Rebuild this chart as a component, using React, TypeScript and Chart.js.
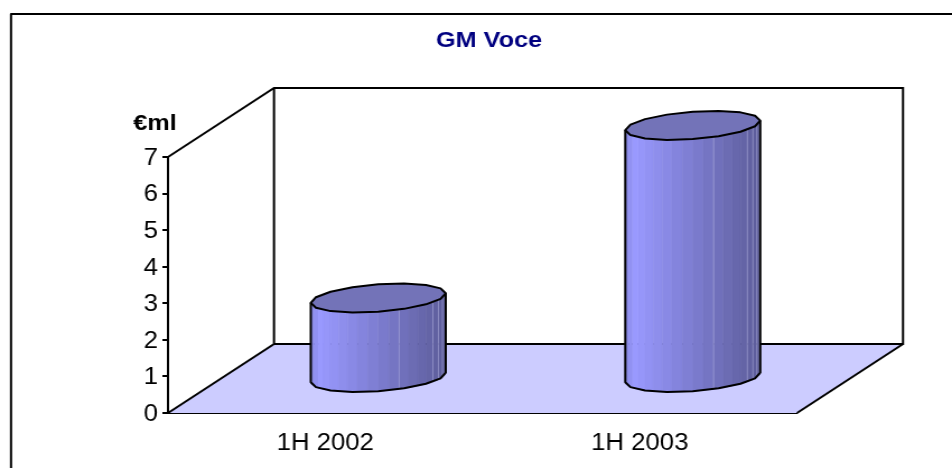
import React, { useEffect, useRef } from "react";
import { Chart, registerables } from "chart.js";

Chart.register(...registerables);

const categories = ["1H 2002", "1H 2003"];
const seriesValues = [2.2, 6.92];
const titleText = "GM Voce";
const unitText = "€ml";

const STRETCH = 1.12; // the whole picture is stretched horizontally
const CANVAS_W = 850;
const CANVAS_H = 468;
const DEPTH_X = 106 / STRETCH;
const DEPTH_Y = 69;
const ELLIPSE_RATIO = 14.5 / 67.5;
const SIDES = 40;
const OUTLINE_SIDES = 16;
const SEAMS = [1, 2, 3, 4, 8];
const TEXT_SIZE = 23;
const TITLE_SIZE = 22.5;
const FONT = '"Liberation Sans", Arial, sans-serif';

const shade = (p: number) => {
  const s = p < 0.07 ? 0.88 + (0.12 * p) / 0.07 : 1 - (0.4 * (p - 0.07)) / 0.93;
  return `rgb(${Math.round(153 * s)},${Math.round(153 * s)},${Math.round(255 * s)})`;
};

function drawCylinder(ctx: CanvasRenderingContext2D, cx: number, top: number, base: number, width: number) {
  const R = width / 2;
  const C = R * ELLIPSE_RATIO * STRETCH;
  const B = (C * DEPTH_X) / DEPTH_Y;
  const A = Math.sqrt(R * R - B * B);
  const theta = Math.atan2(B, A);
  const pt = (t: number, y: number) => ({ x: cx + A * Math.cos(t) + B * Math.sin(t), y: y - C * Math.sin(t) });
  const step = (2 * Math.PI) / SIDES;
  const half = SIDES / 2;
  const oStep = (2 * Math.PI) / OUTLINE_SIDES;
  // strips of the front half, left to right
  for (let k = 0; k < half; k++) {
    const t0 = Math.PI + theta + k * step;
    const t1 = t0 + step;
    const a = pt(t0, top), b = pt(t1, top), c = pt(t1, base), d = pt(t0, base);
    const p = ((a.x + b.x) / 2 - (cx - R)) / (2 * R);
    ctx.fillStyle = shade(p);
    ctx.strokeStyle = shade(p);
    ctx.lineWidth = 0.6;
    ctx.beginPath();
    ctx.moveTo(a.x, a.y);
    ctx.lineTo(b.x, b.y);
    ctx.lineTo(c.x, c.y);
    ctx.lineTo(d.x, d.y);
    ctx.closePath();
    ctx.fill();
    ctx.stroke();
  }
  // light seams toward the dark side
  ctx.strokeStyle = "rgba(190,190,235,0.55)";
  ctx.lineWidth = 0.8;
  SEAMS.forEach((n) => {
    const t = theta - n * step;
    const a = pt(t, top), d = pt(t, base);
    ctx.beginPath();
    ctx.moveTo(a.x, a.y);
    ctx.lineTo(d.x, d.y);
    ctx.stroke();
  });
  // top cap
  ctx.beginPath();
  for (let k = 0; k < OUTLINE_SIDES; k++) {
    const q = pt(theta + k * oStep, top);
    if (k === 0) ctx.moveTo(q.x, q.y);
    else ctx.lineTo(q.x, q.y);
  }
  ctx.closePath();
  ctx.fillStyle = "#7373b8";
  ctx.fill();
  ctx.strokeStyle = "#000";
  ctx.lineWidth = 2;
  ctx.lineJoin = "round";
  ctx.stroke();
  // silhouette
  ctx.beginPath();
  const start = pt(Math.PI + theta, top);
  ctx.moveTo(start.x, start.y);
  for (let k = 0; k <= OUTLINE_SIDES / 2; k++) {
    const q = pt(Math.PI + theta + k * oStep, base);
    ctx.lineTo(q.x, q.y);
  }
  const end = pt(theta, top);
  ctx.lineTo(end.x, end.y);
  ctx.stroke();
}

const scenePlugin = {
  id: "scene",
  beforeDatasetsDraw(chart: any) {
    const { ctx, chartArea: a } = chart;
    ctx.save();
    // floor
    ctx.beginPath();
    ctx.moveTo(a.left, a.bottom);
    ctx.lineTo(a.right, a.bottom);
    ctx.lineTo(a.right + DEPTH_X, a.bottom - DEPTH_Y);
    ctx.lineTo(a.left + DEPTH_X, a.bottom - DEPTH_Y);
    ctx.closePath();
    ctx.fillStyle = "#ccccff";
    ctx.fill();
    // walls
    ctx.strokeStyle = "#000";
    ctx.lineWidth = 2;
    ctx.beginPath();
    ctx.moveTo(a.left, a.top);
    ctx.lineTo(a.left + DEPTH_X, a.top - DEPTH_Y);
    ctx.lineTo(a.right + DEPTH_X, a.top - DEPTH_Y);
    ctx.lineTo(a.right + DEPTH_X, a.bottom - DEPTH_Y);
    ctx.lineTo(a.left + DEPTH_X, a.bottom - DEPTH_Y);
    ctx.moveTo(a.left + DEPTH_X, a.top - DEPTH_Y);
    ctx.lineTo(a.left + DEPTH_X, a.bottom - DEPTH_Y);
    ctx.lineTo(a.left, a.bottom);
    ctx.moveTo(a.right, a.bottom);
    ctx.lineTo(a.right + DEPTH_X, a.bottom - DEPTH_Y);
    ctx.stroke();
    ctx.restore();
  },
  afterDatasetsDraw(chart: any) {
    const { ctx } = chart;
    ctx.save();
    chart.getDatasetMeta(0).data.forEach((el: any) => {
      drawCylinder(ctx, el.x + DEPTH_X / 2, el.y - DEPTH_Y / 2, el.base - DEPTH_Y / 2, el.width);
    });
    // outer frame
    ctx.strokeStyle = "#000";
    ctx.lineWidth = 2;
    ctx.beginPath();
    ctx.moveTo(11 / STRETCH, CANVAS_H);
    ctx.lineTo(11 / STRETCH, 14);
    ctx.lineTo(CANVAS_W, 14);
    ctx.stroke();
    // texts
    ctx.textBaseline = "middle";
    ctx.textAlign = "center";
    ctx.fillStyle = "#000080";
    ctx.font = `bold ${TITLE_SIZE}px ${FONT}`;
    ctx.fillText(titleText, 489 / STRETCH, 41);
    ctx.fillStyle = "#000";
    ctx.fillText(unitText, 155 / STRETCH, 124);
    ctx.restore();
  },
};

export default function App() {
  const ref = useRef<HTMLCanvasElement>(null);
  useEffect(() => {
    const chart = new Chart(ref.current!, {
      type: "bar",
      data: {
        labels: categories,
        datasets: [
          {
            data: seriesValues,
            backgroundColor: "transparent",
            borderWidth: 0,
            barPercentage: 0.429,
            categoryPercentage: 1,
          },
        ],
      },
      options: {
        animation: false,
        responsive: false,
        devicePixelRatio: 1,
        layout: { padding: { top: 157, right: CANVAS_W - 797 / STRETCH, left: 0, bottom: 0 } },
        plugins: { legend: { display: false }, title: { display: false }, tooltip: { enabled: false } },
        scales: {
          x: {
            afterFit(s: any) {
              s.height = 55;
            },
            grid: { display: false, drawTicks: false },
            border: { display: true, color: "#000", width: 2 },
            ticks: { color: "#000", font: { family: FONT, size: TEXT_SIZE }, padding: 17, maxRotation: 0 },
          },
          y: {
            min: 0,
            max: 7,
            afterFit(s: any) {
              s.width = 168 / STRETCH;
            },
            grid: { drawOnChartArea: false, color: "#000", lineWidth: 2, tickLength: 5 },
            border: { display: true, color: "#000", width: 2 },
            ticks: { stepSize: 1, color: "#000", font: { family: FONT, size: TEXT_SIZE }, padding: 4, labelOffset: 1.5 },
          },
        },
      },
      plugins: [scenePlugin],
    } as any);
    return () => chart.destroy();
  }, []);
  return (
    <div style={{ position: "fixed", left: 0, top: 0, width: 952, height: 468, overflow: "hidden", background: "#fff" }}>
      <canvas
        ref={ref}
        width={CANVAS_W}
        height={CANVAS_H}
        style={{ display: "block", transformOrigin: "0 0", transform: `scaleX(${STRETCH})` }}
      />
    </div>
  );
}
